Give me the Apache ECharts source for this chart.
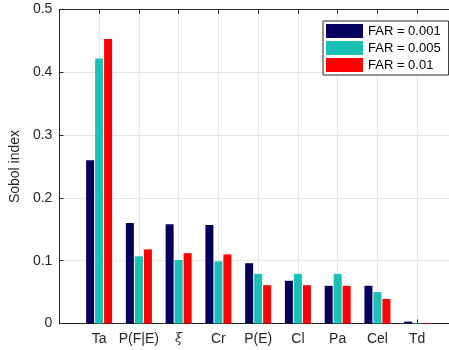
<!DOCTYPE html>
<html>
<head>
  <meta charset="UTF-8">
  <title>Sobol index</title>
  <script src="https://cdn.jsdelivr.net/npm/echarts@6/dist/echarts.min.js"></script>
  <style>
    body { margin: 0; background: #fff; }
    #main { width: 449px; height: 350px; }
  </style>
</head>
<body>
  <div id="main"></div>
  <script>
    const categories = ['Ta', 'P(F|E)', 'ξ', 'Cr', 'P(E)', 'Cl', 'Pa', 'Cel', 'Td'];
    const seriesNames = ['FAR = 0.001', 'FAR = 0.005', 'FAR = 0.01'];
    const far001 = [0.260, 0.160, 0.158, 0.157, 0.096, 0.068, 0.060, 0.060, 0.003];
    const far005 = [0.422, 0.107, 0.101, 0.099, 0.079, 0.079, 0.079, 0.050, 0.001];
    const far01 = [0.453, 0.118, 0.112, 0.110, 0.061, 0.061, 0.060, 0.039, 0.001];
    const colors = ['#05005e', '#1abfb5', '#ff0000'];

    const axisColor = '#262626';
    const font = 'Liberation Sans, Arial, sans-serif';

    // categories sit at x = 1..9; the axis runs past Td and is cut by the right edge
    const toPoints = vals => vals.map((v, i) => [i + 1, v]);

    const xBase = {
      type: 'value',
      min: 0,
      max: 9.8,
      interval: 1,
      axisLine: { show: true, onZero: false, lineStyle: { color: axisColor } },
      axisTick: { show: true, inside: true, length: 4, lineStyle: { color: axisColor } }
    };

    const chart = echarts.init(document.getElementById('main'));
    chart.setOption({
      animation: false,
      grid: { left: 57, top: 9.5, width: 392, height: 314 },
      legend: {
        orient: 'vertical',
        left: 323,
        top: 21,
        icon: 'rect',
        itemWidth: 37,
        itemHeight: 14,
        itemGap: 3,
        padding: [3, 8, 3, 3],
        borderColor: axisColor,
        borderWidth: 1,
        borderRadius: 0,
        backgroundColor: '#fff',
        textStyle: { fontFamily: font, fontSize: 13, color: '#000' },
        data: seriesNames
      },
      xAxis: [Object.assign({}, xBase, {
        position: 'bottom',
        splitLine: { show: true, lineStyle: { color: '#e6e6e6' } },
        axisLabel: {
          fontFamily: font,
          fontSize: 14,
          color: axisColor,
          margin: 9,
          showMaxLabel: false,
          formatter: v => {
            const name = categories[v - 1];
            if (!name) return '';
            return name === 'ξ' ? '{i|ξ}' : name;
          },
          rich: { i: { fontStyle: 'italic', fontFamily: 'DejaVu Serif, serif', fontSize: 13, color: axisColor } }
        }
      }), Object.assign({}, xBase, {
        position: 'top',
        axisLabel: { show: false },
        splitLine: { show: false }
      })],
      yAxis: {
        type: 'value',
        min: 0,
        max: 0.5,
        interval: 0.1,
        name: 'Sobol index',
        nameLocation: 'middle',
        nameGap: 30,
        nameTextStyle: { fontFamily: font, fontSize: 14, color: axisColor },
        axisLine: { show: true, lineStyle: { color: axisColor } },
        axisTick: { show: true, inside: true, length: 4, lineStyle: { color: axisColor } },
        splitLine: { show: true, lineStyle: { color: '#e6e6e6' } },
        axisLabel: {
          fontFamily: font,
          fontSize: 14,
          color: axisColor,
          margin: 7,
          formatter: v => (v === 0 ? '0' : v.toFixed(1))
        }
      },
      series: [far001, far005, far01].map((vals, k) => ({
        name: seriesNames[k],
        type: 'bar',
        data: toPoints(vals),
        barWidth: 8,
        barGap: '12.5%',
        itemStyle: { color: colors[k] }
      }))
    });
  </script>
</body>
</html>
